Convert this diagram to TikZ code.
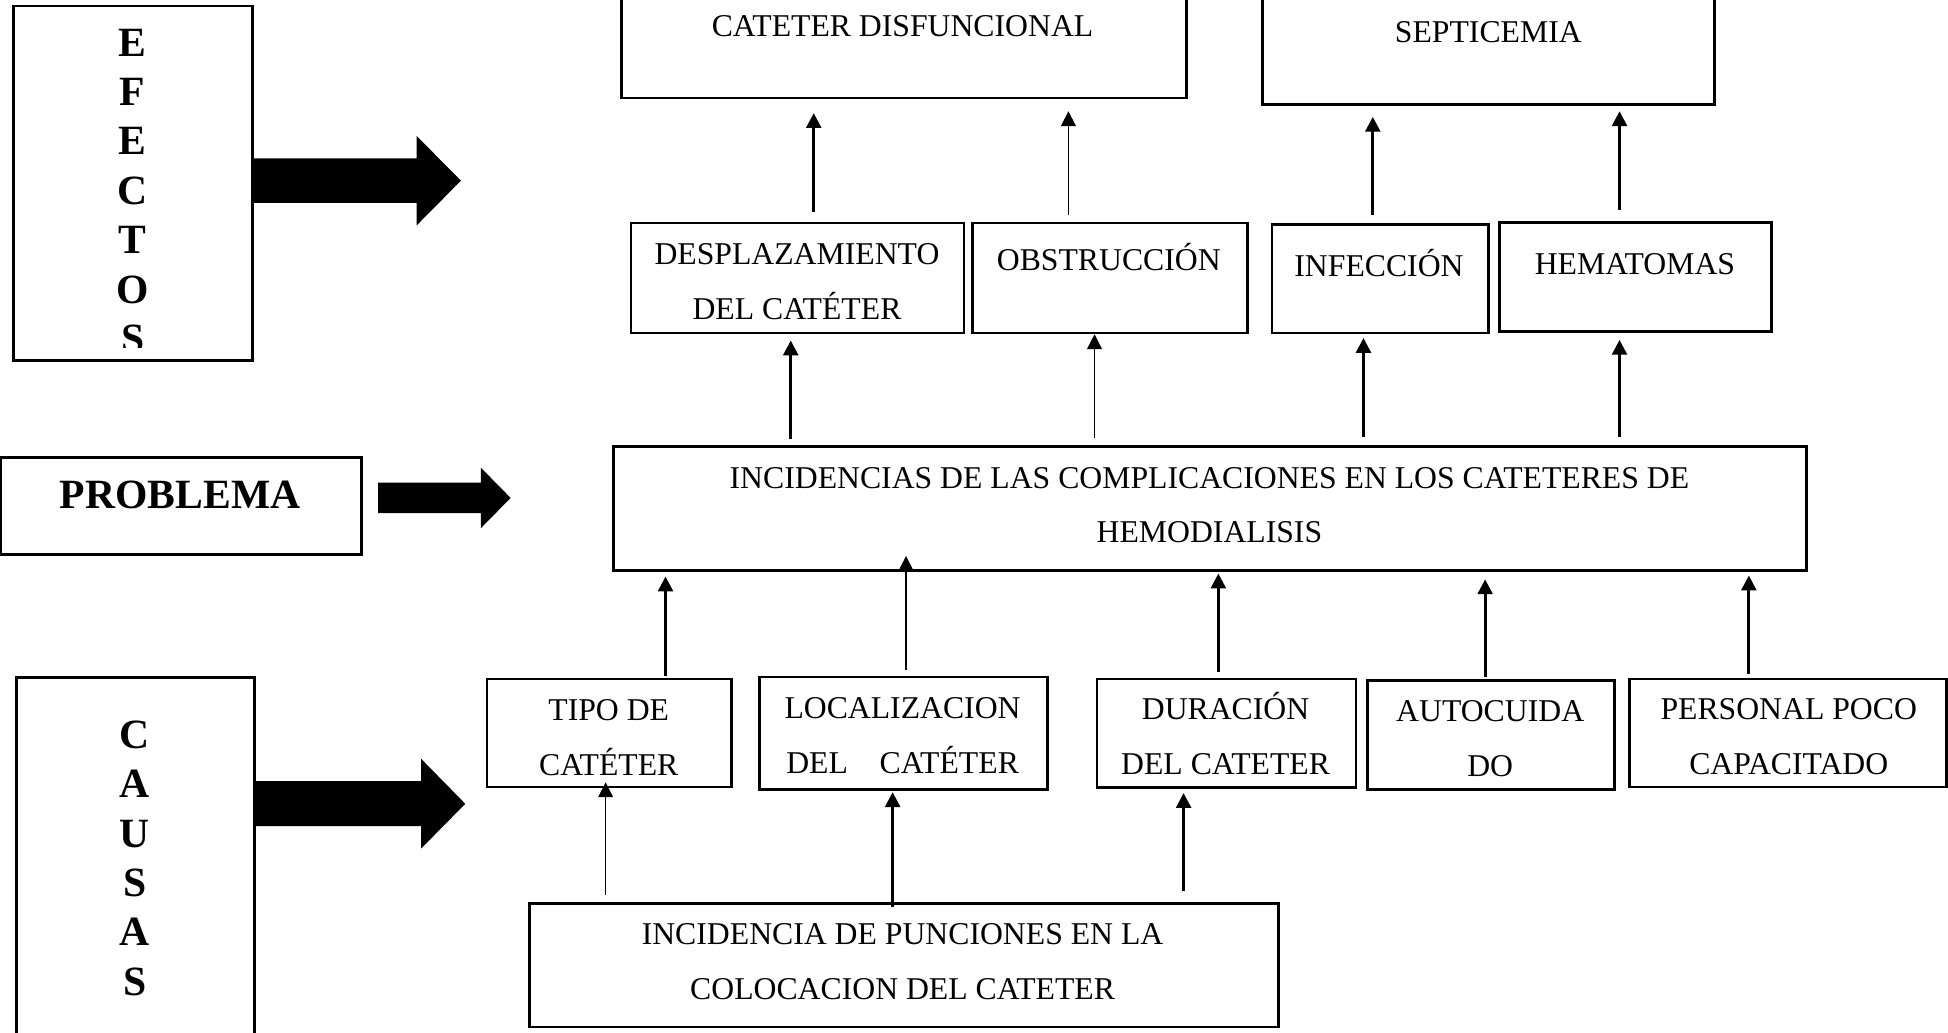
\documentclass[tikz,border=0pt]{standalone}
\usepackage{fontspec}
\setmainfont{Liberation Serif}
\usetikzlibrary{arrows.meta,calc}
\newcommand\mybox[5]{\node[box, minimum width={(#4-#2)*0.47pt}, minimum height={(#5-#3)*0.47pt}] (#1) at ({(#2+#4)/2},{(#3+#5)/2}) {};}
\begin{document}
\begin{tikzpicture}[x=0.47pt,y=-0.47pt,
  box/.style={draw, line width=1pt, rectangle, inner sep=0pt},
  txt/.style={inner sep=0pt, align=center, font=\fontsize{12}{20.7}\selectfont},
  vtxt/.style={inner sep=0pt, align=center, font=\bfseries\fontsize{15.75}{18.7}\selectfont},
  arr/.style={line width=1.1pt, -{Triangle[length=5.6pt,width=5.6pt]}},
  thinarr/.style={line width=0.5pt, -{Triangle[length=5.6pt,width=5.6pt]}},
  blockarrow/.style={fill=black}]
\useasboundingbox (0,0) rectangle (1568,830.7);

% boxes
\mybox{efe}{11}{4.8}{203}{290}
\mybox{pro}{0.5}{368}{291}{446.5}
\mybox{cau}{13.4}{545.5}{205}{845}
\mybox{cdis}{500}{-10}{955}{79}
\mybox{sept}{1016}{-10}{1380}{84}
\mybox{desp}{508}{179.5}{776}{268}
\mybox{obst}{783}{179.5}{1004}{268}
\mybox{infe}{1024}{180.6}{1198}{268}
\mybox{hema}{1207}{179}{1426}{267}
\mybox{prob}{494}{359.4}{1454}{459}
\mybox{tipo}{392}{546.6}{589}{633.4}
\mybox{loca}{611.2}{544.8}{843.3}{635.4}
\mybox{dura}{883}{546.6}{1091.5}{634}
\mybox{auto}{1100.7}{548}{1299.3}{635.6}
\mybox{pers}{1311.5}{546.4}{1567}{633.4}
\mybox{punc}{426}{727}{1029}{826.7}

% texts
\begin{scope}
\clip (11,4.8) rectangle (203,280);
\node[vtxt] (tefe) at (106.8,153.7) {E\\F\\E\\C\\T\\O\\S};
\end{scope}
\node[vtxt] (tcau) at (108.5,690.75) {C\\A\\U\\S\\A\\S};
\node[vtxt, anchor=base] (tproblema) at (145,409.6) {PROBLEMA};

\node[txt, anchor=base] (tcdis) at (726.5,29.5) {CATETER DISFUNCIONAL};
\node[txt, anchor=base] (tsept) at (1198,34.5) {SEPTICEMIA};
\node[txt] (tdesp) at (641.5,226.75) {DESPLAZAMIENTO\\DEL CATÉTER};
\node[txt, anchor=base] (tobst) at (892.5,217.5) {OBSTRUCCIÓN};
\node[txt, anchor=base] (tinfe) at (1110,222.5) {INFECCIÓN};
\node[txt, anchor=base] (thema) at (1316,221) {HEMATOMAS};
\node[txt] (tprob) at (973.5,406.5) {INCIDENCIAS DE LAS COMPLICACIONES EN LOS CATETERES DE\\HEMODIALISIS};
\node[txt] (ttipo) at (490,594) {TIPO DE\\CATÉTER};
\node[txt] (tloca) at (726.5,592) {LOCALIZACION\\DEL\hspace{1em}CATÉTER};
\node[txt] (tdura) at (986.5,590.5) {DURACIÓN\\DEL CATETER};
\node[txt] (tauto) at (1199.5,594.8) {AUTOCUIDA\\DO};
\node[txt] (tpers) at (1439.8,593.2) {PERSONAL POCO\\CAPACITADO};
\node[txt] (tpunc) at (726.5,774) {INCIDENCIA DE PUNCIONES EN LA\\COLOCACION DEL CATETER};

% block arrows
\fill[blockarrow] (efe.east |- 0,127.4) -- (335.4,127.4) -- (335.4,109.5) -- (371,145.4) -- (335.4,181.4) -- (335.4,163.2) -- (efe.east |- 0,163.2) -- cycle;
\fill[blockarrow] (304.4,388.4) -- (387,388.4) -- (387,376.4) -- (411,400.8) -- (387,425.2) -- (387,413) -- (304.4,413) -- cycle;
\fill[blockarrow] (cau.east |- 0,628.7) -- (339,628.7) -- (339,610.8) -- (374.5,647) -- (339,683) -- (339,665) -- (cau.east |- 0,665) -- cycle;

% columns of connectors
\coordinate (k1) at (655,0);
\coordinate (k2) at (860,0);
\coordinate (k3) at (1105,0);
\coordinate (k4) at (1303.6,0);
\coordinate (k5) at (636.5,0);
\coordinate (k6) at (881,0);
\coordinate (k7) at (1097.5,0);
\coordinate (k8) at (1303.6,0);
\coordinate (k9) at (535.7,0);
\coordinate (k10) at (729.3,0);
\coordinate (k11) at (980.7,0);
\coordinate (k12) at (1195.4,0);
\coordinate (k13) at (1407.7,0);
\coordinate (k14) at (487.5,0);
\coordinate (k15) at (718.5,0);
\coordinate (k16) at (952.7,0);

\draw[arr] ($(k1 |- desp.north)+(0,-7.5)$) -- ($(k1 |- cdis.south)+(0,11)$);
\draw[thinarr] ($(k2 |- obst.north)+(0,-5)$) -- ($(k2 |- cdis.south)+(0,9.5)$);
\draw[arr] ($(k3 |- infe.north)+(0,-6.1)$) -- ($(k3 |- sept.south)+(0,9)$);
\draw[arr] ($(k4 |- hema.north)+(0,-9)$) -- ($(k4 |- sept.south)+(0,4.5)$);

\draw[arr] ($(k5 |- prob.north)+(0,-5)$) -- ($(k5 |- desp.south)+(0,5)$);
\draw[thinarr] ($(k6 |- prob.north)+(0,-5.8)$) -- ($(k6 |- obst.south)+(0,0)$);
\draw[arr] ($(k7 |- prob.north)+(0,-6.4)$) -- ($(k7 |- infe.south)+(0,3)$);
\draw[arr] ($(k8 |- prob.north)+(0,-6.4)$) -- ($(k8 |- hema.south)+(0,5.5)$);

\draw[arr] ($(k9 |- tipo.north)+(0,-1.8)$) -- ($(k9 |- prob.south)+(0,4)$);
\draw[thinarr] ($(k10 |- loca.north)+(0,-4.1)$) -- ($(k10 |- prob.south)+(0,-12.5)$);
\draw[arr] ($(k11 |- dura.north)+(0,-5)$) -- ($(k11 |- prob.south)+(0,1.6)$);
\draw[arr] ($(k12 |- auto.north)+(0,-2)$) -- ($(k12 |- prob.south)+(0,6.3)$);
\draw[arr] ($(k13 |- pers.north)+(0,-2.5)$) -- ($(k13 |- prob.south)+(0,3.2)$);

\draw[thinarr] ($(k14 |- punc.north)+(0,-5.6)$) -- ($(k14 |- tipo.south)+(0,-4.7)$);
\draw[arr] ($(k15 |- punc.north)+(0,3.8)$) -- ($(k15 |- loca.south)+(0,1.2)$);
\draw[arr] ($(k16 |- punc.north)+(0,-8.7)$) -- ($(k16 |- dura.south)+(0,3.3)$);
\end{tikzpicture}
\end{document}
